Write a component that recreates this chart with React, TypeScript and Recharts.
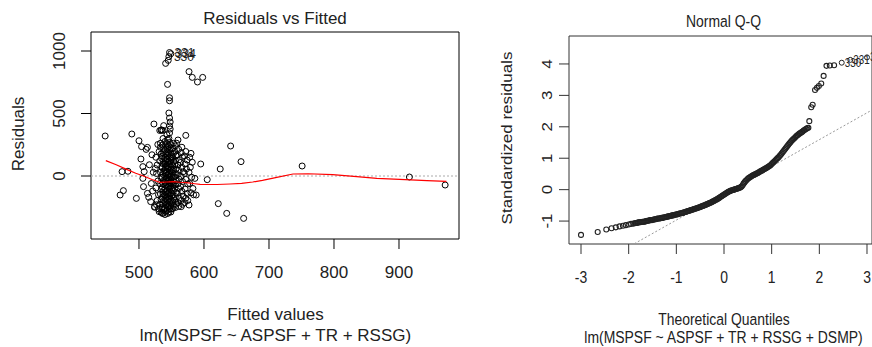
import React from "react";
import {
  ScatterChart,
  Scatter,
  XAxis,
  YAxis,
  ReferenceLine,
  ReferenceArea,
} from "recharts";

const FONT = "'Liberation Sans', Arial, Helvetica, sans-serif";

// Residuals vs Fitted — [fitted value, residual]
const residualPoints: [number, number][] = [
  // sparse points away from the cluster
  [448, 320], [489, 336], [474, 35], [483, 38], [471, -152], [476, -117], [496, -179],
  [500, 282], [504, 235], [513, 229], [523, 416], [572, 325], [595, 96], [625, 56],
  [641, 240], [657, 115], [605, -29], [586, -19], [622, -221], [635, -299], [661, -339],
  [751, 80], [916, -8], [971, -72], [588, -152], [577, 835], [582, 789], [590, 752],
  [598, 789], [544, 733], [541, 901], [545, 925],
  [547, 626], [547, 602], [546, 504], [547, 464], [548, 432], [547, 400], [548, 376],
  [534, 368], [538, 403], [532, 364], [535, 368], [558, 262],
  // left edge of the cluster
  [503, 136], [506, 75], [508, 35], [506, -19], [507, -85], [513, -139], [511, 213],
  [518, -205], [524, -245], [531, -285], [536, -299], [516, 90], [520, 170], [519, -60],
  [522, 30], [521, -120], [515, -170],
  [526, 150], [528, 88], [527, 20], [529, -40], [526, -96], [530, -150], [528, -196],
  [531, 196], [529, 252], [527, -230], [530, -262], [525, 60], [524, -250],
  [533, 230], [534, 176], [532, 120], [535, 74], [533, 30], [534, -12], [532, -60],
  [535, -104], [533, -144], [534, -188], [532, -226], [535, -262], [534, -290], [533, 262],
  [535, 140], [537, 365],
  [537, 300], [536, 248], [538, 214], [537, 186], [536, 156], [538, 124], [537, 98],
  [536, 66], [538, 42], [537, 14], [536, -10], [538, -36], [537, -62], [536, -88],
  [538, -116], [537, -142], [536, -170], [538, -196], [537, -222], [536, -248], [538, -272],
  [537, -298],
  [540, 276], [541, 240], [540, 208], [541, 178], [540, 150], [541, 122], [540, 96],
  [541, 70], [540, 46], [541, 22], [540, -2], [541, -26], [540, -50], [541, -74],
  [540, -98], [541, -124], [540, -150], [541, -176], [540, -202], [541, -230], [540, -256],
  [541, -282], [540, -308],
  [543, 330], [544, 292], [543, 258], [544, 226], [543, 196], [544, 166], [543, 138],
  [544, 110], [543, 84], [544, 58], [543, 32], [544, 8], [543, -16], [544, -40],
  [543, -66], [544, -92], [543, -118], [544, -144], [543, -170], [544, -196], [543, -222],
  [544, -248], [543, -276], [544, -300],
  [547, 344], [546, 300], [547, 268], [546, 236], [547, 206], [546, 176], [547, 148],
  [546, 120], [547, 94], [546, 68], [547, 42], [546, 18], [547, -6], [546, -30],
  [547, -56], [546, -82], [547, -108], [546, -134], [547, -160], [546, -186], [547, -212],
  [546, -238], [547, -264], [546, -290],
  [549, 250], [550, 216], [549, 184], [550, 154], [549, 126], [550, 98], [549, 72],
  [550, 46], [549, 20], [550, -4], [549, -30], [550, -56], [549, -82], [550, -108],
  [549, -134], [550, -160], [549, -186], [550, -212], [549, -238], [550, -264], [549, -288],
  [553, 262], [552, 220], [553, 180], [552, 146], [553, 112], [552, 80], [553, 50],
  [552, 20], [553, -8], [552, -36], [553, -64], [552, -92], [553, -120], [552, -150],
  [553, -178], [552, -206], [553, -234], [552, -260],
  [556, 240], [555, 196], [557, 160], [556, 124], [555, 90], [557, 56], [556, 24],
  [555, -6], [557, -38], [556, -70], [555, -100], [557, -132], [556, -164], [555, -196],
  [557, -226], [556, -252],
  [560, 288], [561, 214], [559, 170], [562, 130], [560, 88], [561, 46], [559, 10],
  [562, -26], [560, -62], [561, -100], [559, -138], [562, -176], [560, -212], [561, -244],
  [565, -245],
  [566, 230], [565, 186], [567, 150], [564, 108], [566, 70], [568, 34], [565, -4],
  [567, -44], [564, -84], [566, -122], [568, -160], [565, -196], [567, -226],
  [572, 196], [570, 160], [574, 128], [571, 96], [573, 56], [570, 20], [572, -27],
  [575, -64], [571, -104], [574, -140], [572, -178], [570, -214], [575, -196],
  [580, 181], [578, 150], [582, 110], [579, 70], [577, 30], [581, -10], [578, -60],
  [583, -100], [580, -134], [577, -232], [584, -150],
];

const labelledResiduals = [
  { x: 547, y: 988, label: "331" },
  { x: 549, y: 978, label: "334" },
  { x: 546, y: 955, label: "330" },
];

// red smoother through the residuals
const lowessCurve: [number, number][] = [
  [449, 123], [465, 90], [481, 53], [495, 22], [507, 0], [520, -28], [532, -51],
  [543, -48], [553, -45], [563, -50], [573, -53], [586, -62], [594, -67], [620, -68],
  [640, -64], [658, -59], [675, -48], [690, -35], [712, -11], [737, 16], [760, 18],
  [798, 11], [835, -5], [866, -19], [901, -27], [943, -37], [973, -43],
];

const fittedTicks = [500, 600, 700, 800, 900];
const residualTicks = [0, 500, 1000];

// Normal Q-Q — [theoretical quantile, standardized residual]
const qqPoints: [number, number][] = [
  [-3.0, -1.44], [-2.65, -1.35], [-2.47, -1.27], [-2.36, -1.23], [-2.27, -1.2],
  [-2.19, -1.17], [-2.12, -1.15], [-2.06, -1.13], [-2.0, -1.11], [-1.95, -1.09],
  [-1.9, -1.08], [-1.85, -1.06], [-1.81, -1.05], [-1.77, -1.04], [-1.73, -1.03],
  [-1.69, -1.02], [-1.65, -1.01], [-1.61, -0.99], [-1.57, -0.98], [-1.53, -0.97],
  [-1.49, -0.96], [-1.45, -0.94], [-1.41, -0.93], [-1.37, -0.92], [-1.33, -0.91],
  [-1.29, -0.9], [-1.25, -0.88], [-1.21, -0.87], [-1.17, -0.85], [-1.13, -0.84],
  [-1.09, -0.82], [-1.05, -0.81], [-1.01, -0.79], [-0.97, -0.78], [-0.93, -0.76],
  [-0.89, -0.75], [-0.85, -0.73], [-0.81, -0.71], [-0.77, -0.69], [-0.73, -0.67],
  [-0.69, -0.65], [-0.65, -0.63], [-0.61, -0.61], [-0.57, -0.59], [-0.53, -0.57],
  [-0.49, -0.55], [-0.45, -0.52], [-0.41, -0.5], [-0.37, -0.47], [-0.33, -0.45],
  [-0.29, -0.42], [-0.25, -0.39], [-0.21, -0.36], [-0.17, -0.32], [-0.13, -0.29],
  [-0.09, -0.25], [-0.05, -0.21], [-0.01, -0.17], [0.03, -0.13], [0.07, -0.09],
  [0.11, -0.06], [0.15, -0.03], [0.19, -0.01], [0.23, 0.01], [0.27, 0.03],
  [0.31, 0.05], [0.35, 0.08], [0.39, 0.14], [0.43, 0.23], [0.47, 0.3],
  [0.51, 0.36], [0.55, 0.4], [0.59, 0.44], [0.63, 0.47], [0.67, 0.5],
  [0.71, 0.53], [0.75, 0.57], [0.79, 0.6], [0.83, 0.64], [0.87, 0.67],
  [0.91, 0.71], [0.95, 0.75], [0.99, 0.8], [1.03, 0.86], [1.07, 0.92],
  [1.11, 0.98], [1.15, 1.04], [1.19, 1.11], [1.23, 1.19], [1.27, 1.27],
  [1.31, 1.35], [1.35, 1.43], [1.39, 1.5], [1.43, 1.57], [1.47, 1.63],
  [1.51, 1.69], [1.55, 1.74], [1.59, 1.79], [1.63, 1.83], [1.67, 1.88],
  [1.71, 1.92], [1.75, 1.96], [1.79, 2.18], [1.83, 2.62], [1.86, 2.7],
  [1.91, 3.17], [1.95, 3.24], [1.99, 3.3], [2.04, 3.38], [2.09, 3.62],
  [2.15, 3.94], [2.22, 3.95], [2.31, 3.96],
];

// the thick middle of the Q-Q band, read between the points above
const qqBand: [number, number][] = [
  [-1.87, -1.07], [-1.83, -1.06], [-1.79, -1.04], [-1.75, -1.04], [-1.71, -1.02],
  [-1.67, -1.02], [-1.63, -1.0], [-1.59, -0.99], [-1.55, -0.97], [-1.51, -0.97],
  [-1.47, -0.95], [-1.43, -0.94], [-1.39, -0.92], [-1.35, -0.92], [-1.31, -0.9],
  [-1.27, -0.89], [-1.23, -0.88], [-1.19, -0.86], [-1.15, -0.85], [-1.11, -0.83],
  [-1.07, -0.82], [-1.03, -0.8], [-0.99, -0.79], [-0.95, -0.77], [-0.91, -0.75],
  [-0.87, -0.74], [-0.83, -0.72], [-0.79, -0.7], [-0.75, -0.68], [-0.71, -0.66],
  [-0.67, -0.64], [-0.63, -0.62], [-0.59, -0.6], [-0.55, -0.58], [-0.51, -0.56],
  [-0.47, -0.53], [-0.43, -0.51], [-0.39, -0.49], [-0.35, -0.46], [-0.31, -0.43],
  [-0.27, -0.41], [-0.23, -0.37], [-0.19, -0.34], [-0.15, -0.31], [-0.11, -0.27],
  [-0.07, -0.23], [-0.03, -0.19], [0.01, -0.15], [0.05, -0.11], [0.09, -0.07],
  [0.13, -0.04], [0.17, -0.02], [0.21, 0.0], [0.25, 0.02], [0.29, 0.04],
  [0.33, 0.06], [0.37, 0.1], [0.41, 0.19], [0.45, 0.27], [0.49, 0.33],
  [0.53, 0.38], [0.57, 0.42], [0.61, 0.46], [0.65, 0.49], [0.69, 0.52],
  [0.73, 0.55], [0.77, 0.59], [0.81, 0.62], [0.85, 0.66], [0.89, 0.69],
  [0.93, 0.73], [0.97, 0.77], [1.01, 0.83], [1.05, 0.89], [1.09, 0.95],
  [1.13, 1.01], [1.17, 1.08], [1.21, 1.15], [1.25, 1.23], [1.29, 1.31],
  [1.33, 1.39], [1.37, 1.47], [1.41, 1.54], [1.45, 1.6], [1.49, 1.66],
  [1.53, 1.72], [1.57, 1.77], [1.61, 1.81], [1.65, 1.85], [1.69, 1.9],
  [1.73, 1.94], [1.77, 1.97],
];

const labelledQQ = [
  { x: 2.47, y: 4.04, label: "330" },
  { x: 2.65, y: 4.13, label: "331" },
  { x: 3.0, y: 4.21, label: "334" },
];

const qqLine = [
  { x: -1.88, y: -1.72 },
  { x: 3.1, y: 2.53 },
];

const quantileTicks = [-3, -2, -1, 0, 1, 2, 3];
const stdResidTicks = [-1, 0, 1, 2, 3, 4];

const toXY = (pairs: [number, number][]) => pairs.map(([x, y]) => ({ x, y }));

const LEFT_X: [number, number] = [426.2, 992.3];
const LEFT_Y: [number, number] = [-504, 1152];
const RIGHT_X: [number, number] = [-3.252, 3.105];
const RIGHT_Y: [number, number] = [-1.73, 4.89];
const SQUEEZE = 0.82; // the Q-Q panel is narrower than tall

const Ring = (r: number, stroke: string, w = 1) => (p: any) => (
  <circle cx={p.cx} cy={p.cy} r={r} fill="none" stroke={stroke} strokeWidth={w} />
);
const Nothing = () => <g />;

const LeftLabelled = (p: any) => (
  <g>
    <circle cx={p.cx} cy={p.cy} r={3} fill="none" stroke="#000" strokeWidth={1} />
    <text x={p.cx + 5} y={p.cy + 4} fontSize={12} fontFamily={FONT} fill="#222">
      {p.payload.label}
    </text>
  </g>
);

const RightLabelled = (p: any) => (
  <g>
    <circle cx={p.cx} cy={p.cy} r={2.5} fill="none" stroke="#222" strokeWidth={1} />
    <text
      transform={`translate(${p.cx + 3},${p.cy + 4}) scale(${SQUEEZE},1)`}
      fontSize={12}
      fontFamily={FONT}
      fill="#222"
    >
      {p.payload.label}
    </text>
  </g>
);

const LeftXTick = ({ x, y, payload }: any) => (
  <text x={x} y={y + 27} textAnchor="middle" fontSize={17} fontFamily={FONT} fill="#222">
    {payload.value}
  </text>
);

const LeftYTick = ({ x, y, payload }: any) => (
  <text
    transform={`translate(${x - 20},${y}) rotate(-90)`}
    textAnchor="middle"
    dominantBaseline="central"
    fontSize={17}
    fontFamily={FONT}
    fill="#222"
  >
    {payload.value}
  </text>
);

const RightXTick = ({ x, y, payload }: any) => (
  <text
    transform={`translate(${x},${y + 27}) scale(${SQUEEZE},1)`}
    textAnchor="middle"
    fontSize={17}
    fontFamily={FONT}
    fill="#222"
  >
    {payload.value}
  </text>
);

const RightYTick = ({ x, y, payload }: any) => (
  <text
    transform={`translate(${x - 10},${y}) scale(${SQUEEZE},1) rotate(-90)`}
    textAnchor="middle"
    dominantBaseline="central"
    fontSize={17}
    fontFamily={FONT}
    fill="#222"
  >
    {payload.value}
  </text>
);

function ResidualsVsFitted() {
  return (
    <ScatterChart width={470} height={347} margin={{ top: 32, right: 11, bottom: 0, left: 0 }}>
      <XAxis
        type="number"
        dataKey="x"
        domain={LEFT_X}
        ticks={fittedTicks}
        interval={0}
        allowDataOverflow
        height={108}
        tickSize={10}
        axisLine={false}
        tickLine={{ stroke: "#000" }}
        tick={LeftXTick}
      />
      <YAxis
        type="number"
        dataKey="y"
        domain={LEFT_Y}
        ticks={residualTicks}
        interval={0}
        allowDataOverflow
        width={91}
        tickSize={10}
        axisLine={false}
        tickLine={{ stroke: "#000" }}
        tick={LeftYTick}
      />
      <ReferenceArea
        x1={LEFT_X[0]}
        x2={LEFT_X[1]}
        y1={LEFT_Y[0]}
        y2={LEFT_Y[1]}
        fill="none"
        stroke="#000"
        strokeWidth={1}
        ifOverflow="visible"
      />
      <ReferenceLine y={0} stroke="#aaa" strokeDasharray="2 2" />
      <Scatter data={toXY(residualPoints)} shape={Ring(3, "#000")} isAnimationActive={false} />
      <Scatter data={labelledResiduals} shape={LeftLabelled} isAnimationActive={false} />
      <Scatter
        data={toXY(lowessCurve)}
        line={{ stroke: "#ff0000", strokeWidth: 1.2 }}
        lineType="joint"
        shape={Nothing}
        isAnimationActive={false}
      />
    </ScatterChart>
  );
}

function NormalQQ() {
  return (
    <ScatterChart width={432} height={347} margin={{ top: 36, right: 0, bottom: 0, left: 0 }}>
      <XAxis
        type="number"
        dataKey="x"
        domain={RIGHT_X}
        ticks={quantileTicks}
        interval={0}
        allowDataOverflow
        height={103}
        tickSize={10}
        axisLine={false}
        tickLine={{ stroke: "#333" }}
        tick={RightXTick}
      />
      <YAxis
        type="number"
        dataKey="y"
        domain={RIGHT_Y}
        ticks={stdResidTicks}
        interval={0}
        allowDataOverflow
        width={129}
        tickSize={10}
        axisLine={false}
        tickLine={{ stroke: "#333" }}
        tick={RightYTick}
      />
      <ReferenceArea
        x1={RIGHT_X[0]}
        x2={RIGHT_X[1]}
        y1={RIGHT_Y[0]}
        y2={RIGHT_Y[1]}
        fill="none"
        stroke="#333"
        strokeWidth={1}
        ifOverflow="visible"
      />
      <ReferenceLine segment={qqLine} stroke="#999" strokeDasharray="2 2" ifOverflow="visible" />
      <Scatter data={toXY(qqPoints)} shape={Ring(2.5, "#222", 1.1)} isAnimationActive={false} />
      <Scatter data={toXY(qqBand)} shape={Ring(2.5, "#222", 1.1)} isAnimationActive={false} />
      <Scatter data={labelledQQ} shape={RightLabelled} isAnimationActive={false} />
    </ScatterChart>
  );
}

export default function App() {
  const txt = { fontSize: 17, fontFamily: FONT, fill: "#222" };
  return (
    <div style={{ position: "absolute", left: 0, top: 0, width: 872, height: 347, background: "#fff", overflow: "hidden" }}>
      <div style={{ position: "absolute", left: 0, top: 0 }}>
        <ResidualsVsFitted />
      </div>
      <div style={{ position: "absolute", left: 440, top: 0 }}>
        <NormalQQ />
      </div>
      <svg
        width={872}
        height={347}
        style={{ position: "absolute", left: 0, top: 0, pointerEvents: "none" }}
      >
        <text x={275} y={24} textAnchor="middle" {...txt}>Residuals vs Fitted</text>
        <text x={275.5} y={320} textAnchor="middle" {...txt}>Fitted values</text>
        <text x={275.5} y={341} textAnchor="middle" {...txt}>lm(MSPSF ~ ASPSF + TR + RSSG)</text>
        <text transform="translate(18,134) rotate(-90)" textAnchor="middle" dominantBaseline="central" {...txt}>
          Residuals
        </text>

        <text transform={`translate(723.5,27) scale(${SQUEEZE},1)`} textAnchor="middle" {...txt}>Normal Q-Q</text>
        <text transform={`translate(724,325) scale(${SQUEEZE},1)`} textAnchor="middle" {...txt}>
          Theoretical Quantiles
        </text>
        <text transform={`translate(723.5,343) scale(${SQUEEZE},1)`} textAnchor="middle" {...txt}>
          lm(MSPSF ~ ASPSF + TR + RSSG + DSMP)
        </text>
        <text
          transform={`translate(507,138) scale(${SQUEEZE},1) rotate(-90)`}
          textAnchor="middle"
          dominantBaseline="central"
          {...txt}
        >
          Standardized residuals
        </text>
      </svg>
    </div>
  );
}
